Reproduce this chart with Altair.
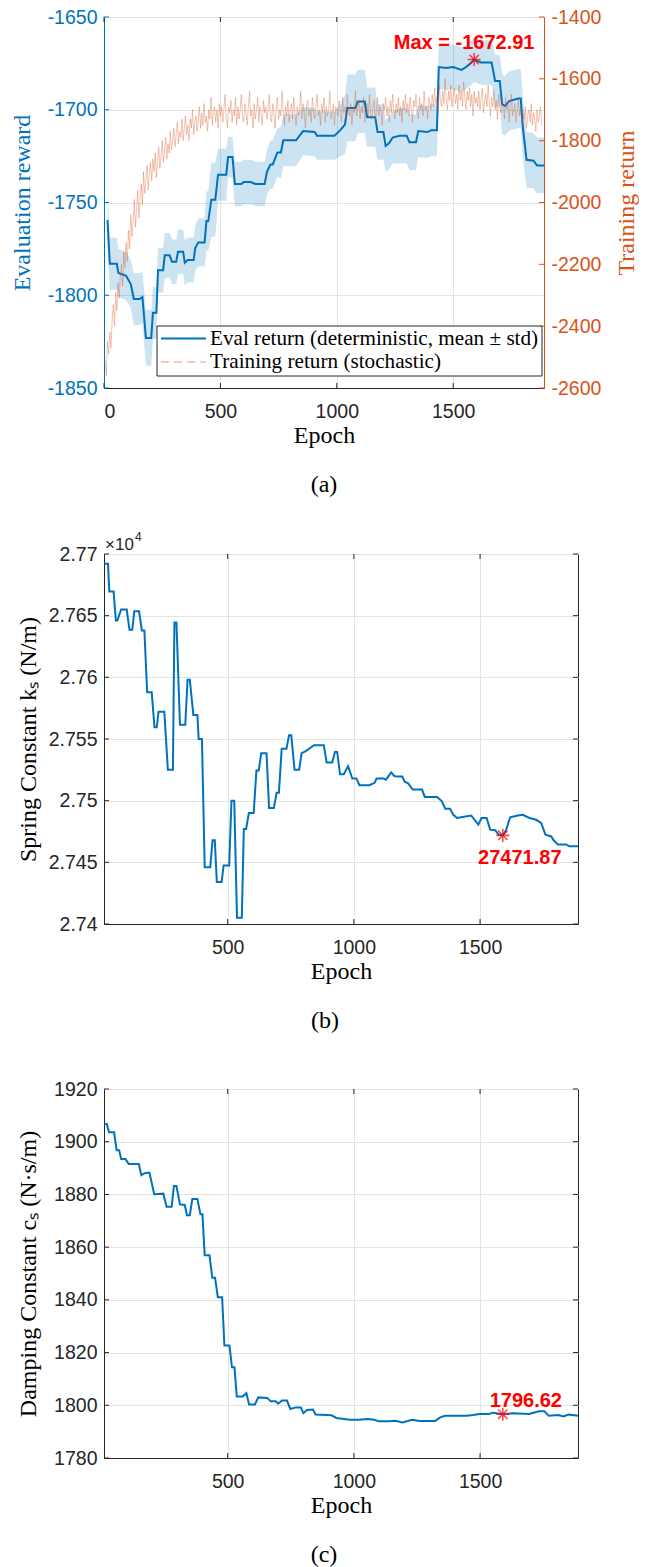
import altair as alt
import pandas as pd

# ---------------- data ----------------
eval_epoch = [15, 25, 55, 62, 95, 115, 128, 153, 165, 180, 203, 210, 225, 232, 254, 261, 282, 292, 310, 318,
              340, 347, 360, 385, 392, 405, 432, 440, 448, 461, 478, 490, 525, 533, 552, 562, 590, 600, 630, 650,
              690, 700, 715, 725, 745, 760, 770, 825, 855, 905, 915, 990, 1015, 1035, 1045, 1080, 1090, 1120, 1130, 1165,
              1175, 1200, 1210, 1225, 1240, 1270, 1300, 1312, 1340, 1350, 1390, 1405, 1430, 1438, 1470, 1500, 1535, 1555, 1575, 1590,
              1620, 1665, 1680, 1700, 1710, 1722, 1740, 1780, 1790, 1800, 1815, 1845, 1860, 1890]
eval_mean = [-1759.5, -1783, -1783, -1788, -1789.5, -1794, -1802, -1802, -1801, -1823, -1823, -1809.5, -1809.5, -1786.5, -1786.5, -1778.5, -1778.5, -1782, -1782, -1776.5,
             -1776.5, -1782.5, -1781, -1781, -1774.5, -1771.5, -1771.5, -1760, -1760, -1748.5, -1748.5, -1735, -1735, -1725.5, -1725.5, -1740, -1740, -1739, -1739, -1740,
             -1740, -1733.5, -1729.5, -1729.5, -1723, -1723, -1716.5, -1716.5, -1711.5, -1712, -1714, -1714, -1711, -1708, -1699, -1699, -1695.5, -1695.5, -1704, -1704,
             -1712, -1712, -1719.5, -1718, -1715, -1714, -1714, -1717.5, -1717.5, -1711.5, -1712, -1711, -1711, -1677, -1677.5, -1677, -1678.5, -1677, -1675, -1672.91,
             -1674.5, -1674.5, -1684.5, -1684.5, -1697, -1698, -1695.3, -1694, -1694, -1710.5, -1727, -1727.5, -1730, -1730]
eval_std = [15, 14, 14, 13, 13, 13, 14, 14, 14, 15, 15, 14, 14, 12, 12, 12, 12, 12, 12, 12,
            12, 12, 12, 12, 12, 13, 13, 16, 16, 20, 20, 14, 14, 11, 11, 12, 12, 12, 12, 12,
            12, 12, 13, 13, 13, 14, 14, 14, 13, 13, 13, 13, 14, 16, 18, 18, 17, 17, 16, 16,
            15, 15, 14, 14, 14, 15, 15, 15, 15, 14, 14, 14, 14, 12, 12, 12, 12, 12, 12, 12,
            12, 12, 14, 14, 16, 16, 16, 16, 16, 16, 15, 15, 15, 15]

train_epoch = list(range(5, 1881, 5))
train_return = [
    -2510, -2560, -2450, -2490, -2420, -2470, -2380, -2330, -2400, -2290, -2350, -2260, -2310, -2240, -2200, -2270, -2160, -2210, -2130, -2190,
    -2090, -2150, -2040, -2110, -2060, -1990, -2080, -2020, -1960, -2050, -1990, -1940, -2010, -1900, -1970, -1930, -1880, -1960, -1910, -1870,
    -1930, -1860, -1900, -1840, -1920, -1870, -1820, -1890, -1850, -1800, -1870, -1830, -1790, -1860, -1810, -1840, -1770, -1830, -1800, -1760,
    -1820, -1780, -1740, -1810, -1770, -1790, -1730, -1800, -1760, -1720, -1780, -1750, -1800, -1730, -1760, -1700, -1780, -1740, -1720, -1770,
    -1730, -1690, -1760, -1710, -1750, -1680, -1740, -1720, -1770, -1700, -1730, -1660, -1750, -1710, -1690, -1740, -1700, -1760, -1680, -1720,
    -1690, -1740, -1700, -1650, -1730, -1760, -1690, -1710, -1670, -1740, -1700, -1720, -1660, -1750, -1690, -1730, -1700, -1650, -1720, -1740,
    -1680, -1710, -1750, -1690, -1640, -1720, -1700, -1760, -1680, -1730, -1700, -1660, -1740, -1690, -1720, -1750, -1670, -1710, -1690, -1730,
    -1700, -1650, -1720, -1740, -1680, -1710, -1760, -1690, -1660, -1730, -1700, -1720, -1640, -1710, -1750, -1690, -1720, -1670, -1740, -1700,
    -1680, -1730, -1660, -1710, -1750, -1690, -1720, -1700, -1640, -1730, -1680, -1710, -1760, -1690, -1670, -1720, -1700, -1740, -1660, -1710,
    -1730, -1690, -1650, -1720, -1700, -1750, -1680, -1710, -1660, -1740, -1690, -1720, -1700, -1640, -1730, -1710, -1680, -1750, -1690, -1700,
    -1720, -1670, -1700, -1740, -1660, -1710, -1690, -1730, -1650, -1700, -1720, -1680, -1750, -1690, -1710, -1640, -1720, -1700, -1670, -1730,
    -1690, -1710, -1660, -1740, -1700, -1680, -1720, -1650, -1710, -1730, -1690, -1670, -1740, -1700, -1660, -1720, -1690, -1710, -1750, -1680,
    -1700, -1660, -1720, -1690, -1740, -1670, -1710, -1650, -1700, -1730, -1680, -1710, -1660, -1720, -1690, -1740, -1670, -1700, -1650, -1710,
    -1680, -1720, -1660, -1700, -1740, -1670, -1690, -1650, -1710, -1730, -1660, -1700, -1680, -1720, -1640, -1700, -1690, -1730, -1660, -1680,
    -1700, -1650, -1690, -1630, -1680, -1660, -1710, -1620, -1670, -1690, -1640, -1680, -1600, -1660, -1700, -1640, -1670, -1620, -1690, -1650,
    -1630, -1680, -1650, -1700, -1620, -1670, -1640, -1690, -1610, -1660, -1700, -1640, -1670, -1630, -1690, -1650, -1720, -1640, -1680, -1660,
    -1690, -1640, -1700, -1660, -1630, -1710, -1670, -1650, -1690, -1620, -1680, -1720, -1660, -1690, -1640, -1700, -1670, -1730, -1650, -1690,
    -1710, -1670, -1690, -1730, -1660, -1700, -1680, -1740, -1690, -1650, -1720, -1700, -1680, -1740, -1700, -1670, -1720, -1690, -1750, -1710,
    -1730, -1690, -1760, -1720, -1700, -1740, -1680, -1750, -1710, -1730, -1770, -1700, -1740, -1720, -1690, -1750]

spring_epoch = [12, 26, 31, 48, 57, 63, 78, 100, 111, 122, 130, 149, 160, 170, 181, 199, 210, 219, 226, 249,
                263, 283, 289, 297, 311, 332, 341, 350, 364, 380, 385, 398, 409, 431, 440, 449, 457, 476, 484, 506,
                515, 526, 537, 556, 564, 573, 584, 603, 614, 623, 633, 654, 664, 683, 694, 703, 714, 733, 743, 752,
                765, 783, 793, 808, 842, 881, 892, 914, 925, 934, 945, 960, 977, 994, 1010, 1022, 1062, 1082, 1090, 1117,
                1127, 1148, 1160, 1175, 1192, 1201, 1215, 1233, 1270, 1281, 1330, 1349, 1362, 1381, 1394, 1409, 1436, 1465, 1493, 1506,
                1526, 1540, 1560, 1573, 1590, 1603, 1619, 1650, 1669, 1696, 1722, 1742, 1759, 1782, 1791, 1808, 1841, 1854, 1888]
spring_k = [27692, 27692, 27669.5, 27669.5, 27646, 27646, 27655, 27655, 27638.5, 27638.5, 27653.5, 27653.5, 27638, 27638, 27588, 27588, 27559.5, 27559.5, 27572, 27572,
            27525, 27525, 27644.5, 27644.5, 27561.5, 27561.5, 27598, 27598, 27569.5, 27569.5, 27550, 27550, 27446, 27446, 27468, 27468, 27434, 27434, 27447.5, 27447.5,
            27500, 27500, 27405, 27405, 27477, 27477, 27490, 27490, 27524.5, 27524.5, 27538.5, 27538.5, 27494, 27494, 27506.5, 27506.5, 27542, 27542, 27553, 27553,
            27525, 27525, 27538.5, 27540, 27545, 27545, 27531, 27531, 27539.5, 27539.5, 27521.5, 27521.5, 27528, 27518, 27518, 27512.5, 27512.5, 27514.5, 27518, 27518,
            27517, 27523, 27520, 27519.5, 27519.5, 27515.5, 27514, 27509, 27509, 27503, 27503, 27499.5, 27493.5, 27493.5, 27488.5, 27486, 27487, 27488, 27480.5, 27486,
            27486, 27476.5, 27476, 27472.5, 27471.87, 27476, 27486.5, 27488, 27488.5, 27486, 27484.5, 27482, 27472.5, 27471, 27468, 27464.5, 27464.5, 27463, 27463]

damp_epoch = [11, 21, 30, 50, 60, 70, 78, 95, 108, 148, 158, 170, 180, 190, 209, 245, 258, 278, 287, 297,
              311, 330, 339, 350, 360, 380, 392, 400, 409, 428, 439, 450, 461, 478, 487, 507, 517, 527, 536, 559,
              574, 585, 608, 621, 657, 670, 690, 700, 715, 735, 748, 770, 790, 800, 815, 838, 848, 911, 931, 960,
              983, 1020, 1055, 1080, 1100, 1140, 1165, 1192, 1231, 1260, 1322, 1342, 1361, 1446, 1472, 1499, 1535, 1551, 1590, 1630,
              1694, 1733, 1755, 1772, 1810, 1830, 1851, 1888]
damp_c = [1906.7, 1906.7, 1903.6, 1903.6, 1896.8, 1896.8, 1893.4, 1893.4, 1891.5, 1891.5, 1887.3, 1888, 1888.2, 1888.2, 1880.1, 1880.3, 1875.3, 1875.3, 1883.2, 1883.2,
          1876.2, 1876, 1872.1, 1872.1, 1878.3, 1878.3, 1872.5, 1872.5, 1856.9, 1856.9, 1848.4, 1848.4, 1841, 1841, 1822.7, 1822.7, 1814.4, 1814.4, 1803.3, 1803.3,
          1804.6, 1800.3, 1800.3, 1803, 1802.8, 1801.5, 1801.5, 1800.6, 1801.8, 1801.8, 1798.6, 1799.2, 1799.2, 1797, 1798.2, 1798.4, 1796.5, 1796.2, 1795.2, 1794.8,
          1794.5, 1794.5, 1794.8, 1794.5, 1793.9, 1793.9, 1794.1, 1793.5, 1794.5, 1794, 1794, 1795.4, 1796, 1796, 1796.3, 1796.7, 1796.7, 1797.2, 1796.62, 1797,
          1796.7, 1797.7, 1797.7, 1796, 1796.3, 1795.8, 1796.5, 1796]

best_epoch = 1590
best_reward = -1672.91
best_k = 27471.87
best_c = 1796.62

# ---------------- style ----------------
BLUE = "#0072BD"
ORANGE = "#D95319"
DARK = "#262626"
GRID = "#E3E3E3"
SANS = "Liberation Sans"
SERIF = "Liberation Serif"
LBL = 19.5
TTL = 24
ASTER = "M-1,0L1,0M0,-1L0,1M-0.72,-0.72L0.72,0.72M-0.72,0.72L0.72,-0.72"
NUM = "'' + datum.value"

A_W, A_H = 440, 371
B_W, B_H = 474, 370
C_W, C_H = 474, 369

one = pd.DataFrame({"k": [0]})


def x_axis(values):
    return alt.Axis(values=values, labelExpr=NUM, grid=True, gridColor=GRID, ticks=False,
                    domainColor=DARK, labelColor=DARK, labelFont=SANS, labelFontSize=LBL,
                    labelPadding=14, title="Epoch", titleFont=SERIF, titleFontSize=TTL,
                    titleFontWeight="normal", titleColor="black", titlePadding=3, zindex=0)


def y_axis(values, title, color=DARK, tcolor="black", orient="left", grid=True, expr=NUM, tpad=13):
    kw = dict(values=values, labelExpr=expr, grid=grid, gridColor=GRID, ticks=False,
              domainColor=color, labelColor=color, labelFont=SANS, labelFontSize=LBL,
              labelPadding=7, title=title, titleFont=SERIF, titleFontSize=TTL,
              titleFontWeight="normal", titleColor=tcolor, titlePadding=tpad, zindex=0, orient=orient)
    if orient == "right":
        kw.update(titleAngle=270, titleBaseline="top")
    return alt.Axis(**kw)


def inner_x_ticks(values, xscale, h):
    d = pd.DataFrame({"epoch": values})
    top = alt.Chart(d).mark_rule(color=DARK, strokeWidth=1).encode(
        x=alt.X("epoch:Q", scale=xscale), y=alt.value(0), y2=alt.value(5))
    bot = alt.Chart(d).mark_rule(color=DARK, strokeWidth=1).encode(
        x=alt.X("epoch:Q", scale=xscale), y=alt.value(h - 5), y2=alt.value(h))
    return [top, bot]


def inner_y_ticks(values, field, yscale, w, color=DARK, side="both"):
    d = pd.DataFrame({field: values})
    out = []
    if side in ("both", "left"):
        out.append(alt.Chart(d).mark_rule(color=color, strokeWidth=1).encode(
            y=alt.Y(f"{field}:Q", scale=yscale), x=alt.value(0), x2=alt.value(5)))
    if side in ("both", "right"):
        out.append(alt.Chart(d).mark_rule(color=color, strokeWidth=1).encode(
            y=alt.Y(f"{field}:Q", scale=yscale), x=alt.value(w - 5), x2=alt.value(w)))
    return out


def caption(text, dx):
    return alt.TitleParams(text=text, orient="bottom", frame="group", anchor="middle", offset=25,
                           font=SERIF, fontSize=TTL, fontWeight="normal", color="black", dx=dx)


# ---------------- panel (a) ----------------
ev = pd.DataFrame({"epoch": eval_epoch, "reward": eval_mean, "std": eval_std})
ev["lo"] = ev["reward"] - ev["std"]
ev["hi"] = ev["reward"] + ev["std"]
tr = pd.DataFrame({"epoch": train_epoch, "train": train_return})
best_a = pd.DataFrame({"epoch": [best_epoch], "reward": [best_reward],
                       "label": [f"Max = {best_reward:.2f}"]})

xs_a = alt.Scale(domain=[0, 1890], nice=False, zero=False)
ys_l = alt.Scale(domain=[-1850, -1650], nice=False, zero=False)
ys_r = alt.Scale(domain=[-2600, -1400], nice=False, zero=False)
left_ticks = [-1850, -1800, -1750, -1700, -1650]
right_ticks = [-2600, -2400, -2200, -2000, -1800, -1600, -1400]

band = alt.Chart(ev).mark_area(color=BLUE, opacity=0.2).encode(
    x=alt.X("epoch:Q", scale=xs_a, axis=x_axis([0, 500, 1000, 1500])),
    y=alt.Y("lo:Q", scale=ys_l, axis=y_axis(left_ticks, "Evaluation reward", BLUE, BLUE)),
    y2="hi:Q")
eline = alt.Chart(ev).mark_line(color=BLUE, strokeWidth=2).encode(
    x=alt.X("epoch:Q", scale=xs_a), y=alt.Y("reward:Q", scale=ys_l))
star_a = alt.Chart(best_a).mark_point(shape=ASTER, size=170, filled=False, color="red", strokeWidth=1.6).encode(
    x=alt.X("epoch:Q", scale=xs_a), y=alt.Y("reward:Q", scale=ys_l))
txt_a = alt.Chart(best_a).mark_text(font=SANS, fontSize=20, fontWeight="bold", color="red",
                                    align="center", baseline="alphabetic", dx=-10, dy=-10).encode(
    x=alt.X("epoch:Q", scale=xs_a), y=alt.Y("reward:Q", scale=ys_l), text="label:N")

leg_box = alt.Chart(one).mark_rect(fill="white", stroke=DARK, strokeWidth=1).encode(
    x=alt.value(53), x2=alt.value(438), y=alt.value(309), y2=alt.value(359))
leg_l1 = alt.Chart(one).mark_rule(color=BLUE, strokeWidth=2).encode(
    x=alt.value(57), x2=alt.value(102), y=alt.value(321.5))
leg_l2 = alt.Chart(one).mark_rule(color=ORANGE, strokeWidth=1.5, opacity=0.4, strokeDash=[8, 5]).encode(
    x=alt.value(57), x2=alt.value(102), y=alt.value(345))
leg_t1 = alt.Chart(one).mark_text(text="Eval return (deterministic, mean \u00b1 std)", font=SERIF, fontSize=21.2,
                                  align="left", baseline="middle", color="black").encode(
    x=alt.value(106), y=alt.value(321.5))
leg_t2 = alt.Chart(one).mark_text(text="Training return (stochastic)", font=SERIF, fontSize=21.2,
                                  align="left", baseline="middle", color="black").encode(
    x=alt.value(106), y=alt.value(345))

left_group = alt.layer(band, eline, star_a, txt_a,
                       *inner_x_ticks([0, 500, 1000, 1500], xs_a, A_H),
                       *inner_y_ticks(left_ticks, "reward", ys_l, A_W, BLUE, "left"))

tline = alt.Chart(tr).mark_line(color=ORANGE, strokeWidth=0.9, opacity=0.38).encode(
    x=alt.X("epoch:Q", scale=xs_a),
    y=alt.Y("train:Q", scale=ys_r,
            axis=y_axis(right_ticks, "Training return", ORANGE, ORANGE, orient="right", grid=False, tpad=14)))
right_group = alt.layer(tline, *inner_y_ticks(right_ticks, "train", ys_r, A_W, ORANGE, "right"))

legend_group = alt.layer(leg_box, leg_l1, leg_l2, leg_t1, leg_t2)

panel_a = alt.layer(left_group, right_group, legend_group).resolve_scale(y="independent").properties(
    width=A_W, height=A_H, title=caption("(a)", 0))

# ---------------- panel (b) ----------------
sp = pd.DataFrame({"epoch": spring_epoch, "k": spring_k})
best_b = pd.DataFrame({"epoch": [best_epoch], "k": [best_k], "label": [f"{best_k:.2f}"]})
xs_b = alt.Scale(domain=[10, 1888], nice=False, zero=False)
ys_b = alt.Scale(domain=[27400, 27700], nice=False, zero=False)
k_ticks = [27400, 27450, 27500, 27550, 27600, 27650, 27700]

bline = alt.Chart(sp).mark_line(color=BLUE, strokeWidth=2).encode(
    x=alt.X("epoch:Q", scale=xs_b, axis=x_axis([500, 1000, 1500])),
    y=alt.Y("k:Q", scale=ys_b, axis=y_axis(k_ticks, "Spring Constant k\u209b (N/m)",
                                             expr="format(datum.value / 10000, '.4~f')", tpad=8)))
star_b = alt.Chart(best_b).mark_point(shape=ASTER, size=170, filled=False, color="red", strokeWidth=1.6).encode(
    x=alt.X("epoch:Q", scale=xs_b), y=alt.Y("k:Q", scale=ys_b))
txt_b = alt.Chart(best_b).mark_text(font=SANS, fontSize=20, fontWeight="bold", color="red",
                                    align="center", baseline="alphabetic", dx=17, dy=29).encode(
    x=alt.X("epoch:Q", scale=xs_b), y=alt.Y("k:Q", scale=ys_b), text="label:N")
exp_b1 = alt.Chart(one).mark_text(text="\u00d710", font=SANS, fontSize=17, align="left",
                                  baseline="alphabetic", color=DARK).encode(x=alt.value(1), y=alt.value(-4))
exp_b2 = alt.Chart(one).mark_text(text="4", font=SANS, fontSize=12, align="left",
                                  baseline="alphabetic", color=DARK).encode(x=alt.value(31), y=alt.value(-13))

panel_b = alt.layer(bline, star_b, txt_b, exp_b1, exp_b2,
                    *inner_x_ticks([500, 1000, 1500], xs_b, B_H),
                    *inner_y_ticks(k_ticks, "k", ys_b, B_W)).properties(
    width=B_W, height=B_H, title=caption("(b)", -16))

# ---------------- panel (c) ----------------
dp = pd.DataFrame({"epoch": damp_epoch, "c": damp_c})
best_c_df = pd.DataFrame({"epoch": [best_epoch], "c": [best_c], "label": [f"{best_c:.2f}"]})
ys_c = alt.Scale(domain=[1780, 1920], nice=False, zero=False)
c_ticks = [1780, 1800, 1820, 1840, 1860, 1880, 1900, 1920]

cline = alt.Chart(dp).mark_line(color=BLUE, strokeWidth=2).encode(
    x=alt.X("epoch:Q", scale=xs_b, axis=x_axis([500, 1000, 1500])),
    y=alt.Y("c:Q", scale=ys_c, axis=y_axis(c_ticks, "Damping Constant c\u209b (N\u00b7s/m)", tpad=13)))
star_c = alt.Chart(best_c_df).mark_point(shape=ASTER, size=170, filled=False, color="red", strokeWidth=1.6).encode(
    x=alt.X("epoch:Q", scale=xs_b), y=alt.Y("c:Q", scale=ys_c))
txt_c = alt.Chart(best_c_df).mark_text(font=SANS, fontSize=20, fontWeight="bold", color="red",
                                       align="center", baseline="alphabetic", dx=23, dy=-7).encode(
    x=alt.X("epoch:Q", scale=xs_b), y=alt.Y("c:Q", scale=ys_c), text="label:N")

panel_c = alt.layer(cline, star_c, txt_c,
                    *inner_x_ticks([500, 1000, 1500], xs_b, C_H),
                    *inner_y_ticks(c_ticks, "c", ys_c, C_W)).properties(
    width=C_W, height=C_H, title=caption("(c)", -17))

lower = alt.concat(panel_b, panel_c, columns=1, spacing=45)
chart = alt.concat(panel_a, lower, columns=1, spacing=33).properties(
    padding={"left": 9, "top": 6, "right": 5, "bottom": 5}, background="white"
).configure_view(stroke=DARK, strokeWidth=1)

chart.save("out.html", embed_options={"renderer": "svg", "actions": False})
